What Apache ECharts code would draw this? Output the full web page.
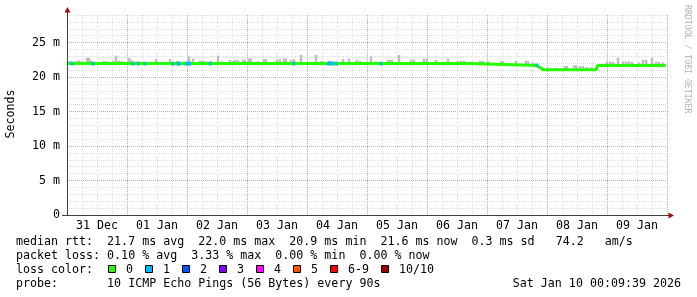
<!DOCTYPE html>
<html>
<head>
<meta charset="utf-8">
<script src="https://cdn.jsdelivr.net/npm/echarts@6/dist/echarts.min.js"></script>
<style>
html,body{margin:0;padding:0;background:#fff;}
#chart{width:697px;height:297px;}
</style>
</head>
<body>
<div id="chart"></div>
<script>
// ---------- data ----------
const dayLabels = ['31 Dec','01 Jan','02 Jan','03 Jan','04 Jan','05 Jan','06 Jan','07 Jan','08 Jan','09 Jan'];
const yTickLabels = {0:'0',5:'5 m',10:'10 m',15:'15 m',20:'20 m',25:'25 m'};

// median rtt (ms) vs hours since 31 Dec 00:00
const medianHours = [0, 161.5, 161.7, 188, 190.4, 211.6, 212.2, 239.5];
const medianMs    = [21.95, 21.95, 21.68, 21.68, 21.05, 21.05, 21.68, 21.68];

// smoke (max rtt) tops, ms
const smokeHours = [1.2,3.6,4.8,6.0,8.0,8.8,9.6,12,14.4,15.2,16.4,18.4,19.6,20.8,22.0,24.8,25.6,26.8,28.0,30.4,33.2,35.6,38.4,41.2,44.0,46.4,48.8,50.4,53.2,54.4,55.6,57.6,60.4,62.0,65.2,66.4,67.2,68.4,70.4,71.2,72.8,73.6,76.4,78.8,79.6,84.0,85.2,86.8,87.6,89.6,90.8,93.6,97.2,99.6,101.6,102.4,104.8,105.6,110.4,112.8,116,117.2,121.6,123.6,128.4,129.2,130,132.8,137.6,138.8,142.8,144,147.6,152.4,156.4,157.6,158.8,
  165.2,166.4,168.4,170.8,173.6,174.4,177.2,179.6,183.6,184.4,186.4,
  192.4,195.2,199.2,200,202.8,203.6,205.2,206.4,208,209.6,
  216,217.2,218.4,220.4,222.4,223.6,224.8,226,228.8,230.4,231.6,234,235.6,236.8,238.4];
const smokeTopMs = [22.3,22.35,22.4,22.3,22.8,22.8,22.4,22.2,22.3,22.3,22.25,22.4,23.1,22.4,22.3,22.8,22.5,22.3,22.25,22.2,22.2,22.6,22.2,22.6,22.3,22.2,23.0,22.7,22.4,22.4,22.3,22.3,23.1,22.3,22.5,22.35,22.5,22.5,22.5,22.5,22.7,22.7,22.3,22.6,22.6,22.5,22.6,22.7,22.7,22.5,22.6,23.2,22.2,23.2,22.3,22.3,22.35,22.35,22.6,22.7,22.5,22.35,23.0,22.3,22.5,22.5,22.5,23.2,22.5,22.5,22.7,22.7,22.5,22.7,22.35,22.35,22.35,
  22.35,22.35,22.3,22.0,22.3,22.3,22.0,22.35,22.4,22.3,22.1,
  21.3,21.35,21.6,21.6,21.7,21.7,21.6,21.6,21.45,21.4,
  22.2,22.25,22.2,22.8,22.25,22.25,22.25,22.2,22.1,22.5,22.5,22.8,22.25,22.2,22.1];

// samples with 1/10 packets lost
const loss1Hours = [2.0,10.4,26.3,28.5,31.1,42.3,44.4,44.8,47.6,48.4,49.2,57.2,90.8,104.4,105.2,106.4,107.6,125.6,188];
const loss1Ms    = [21.95,21.95,21.95,21.95,21.95,21.95,21.95,21.95,21.95,21.95,21.95,21.95,21.95,21.95,21.95,21.95,21.95,21.95,21.68];

const lossLabels = ['0','1','2','3','4','5','6-9','10/10'];
const lossColors = ['#26ff00','#00b8ff','#0059ff','#7e00ff','#ff00ff','#ff5500','#ff0000','#a10000'];

const statLines = [
  'median rtt:  21.7 ms avg  22.0 ms max  20.9 ms min  21.6 ms now  0.3 ms sd   74.2   am/s',
  'packet loss: 0.10 % avg  3.33 % max  0.00 % min  0.00 % now',
  'loss color:',
  'probe:       10 ICMP Echo Pings (56 Bytes) every 90s'
];
const stampText = 'Sat Jan 10 00:09:39 2026';

// ---------- chart ----------
const MONO = '"DejaVu Sans Mono", monospace';
const FS = 11.65;
const CW = 7.01;
const MINOR = '#dcdcdc';
const MAJOR = '#e89a9a';

function medianAt(h){
  for (let i = 1; i < medianHours.length; i++) {
    if (h <= medianHours[i]) {
      const a = medianHours[i-1], b = medianHours[i];
      const t = b === a ? 0 : (h - a) / (b - a);
      return medianMs[i-1] + t * (medianMs[i] - medianMs[i-1]);
    }
  }
  return medianMs[medianMs.length-1];
}

const smokeData = smokeHours.map((h, i) => [h, medianAt(h), smokeTopMs[i]]);
const medianData = medianHours.map((h, i) => [h, medianMs[i]]);
const loss1Data = loss1Hours.map((h, i) => [h, loss1Ms[i]]);

const chart = echarts.init(document.getElementById('chart'), null, {renderer:'canvas'});

const G = {left:67, top:15, width:600, height:200};

const graphics = [];
graphics.push({type:'line', z:50, shape:{x1:67.5,y1:215,x2:67.5,y2:11}, style:{stroke:'#404040',lineWidth:1}});
graphics.push({type:'line', z:50, shape:{x1:62,y1:215.5,x2:670,y2:215.5}, style:{stroke:'#404040',lineWidth:1}});
graphics.push({type:'polygon', z:51, shape:{points:[[67.5,7],[64.5,12.5],[70.5,12.5]]}, style:{fill:'#a01010'}});
graphics.push({type:'polygon', z:51, shape:{points:[[674,215.5],[668.5,212.5],[668.5,218.5]]}, style:{fill:'#a01010'}});
graphics.push({type:'text', x:11, y:114, rotation:Math.PI/2, style:{text:'Seconds', font:FS+'px '+MONO, fill:'#000', align:'center', verticalAlign:'middle'}});
graphics.push({type:'text', x:687, y:5, rotation:-Math.PI/2, style:{text:'RRDTOOL / TOBI OETIKER', font:'8.2px '+MONO, fill:'#b4b4b4', align:'left', verticalAlign:'middle'}});
const rowY = [241.5, 255.5, 269.5, 283.5];
statLines.forEach((t, i) => {
  graphics.push({type:'text', x:16, y:rowY[i], style:{text:t, font:FS+'px '+MONO, fill:'#000', align:'left', verticalAlign:'middle'}});
});
graphics.push({type:'text', x:681, y:rowY[3], style:{text:stampText, font:FS+'px '+MONO, fill:'#000', align:'right', verticalAlign:'middle'}});
let lx = 108;
lossLabels.forEach((lab, i) => {
  graphics.push({type:'rect', shape:{x:lx+0.5, y:265.5, width:7, height:7}, style:{fill:lossColors[i], stroke:'#000', lineWidth:1}});
  graphics.push({type:'text', x:lx+18, y:rowY[2], style:{text:lab, font:FS+'px '+MONO, fill:'#000', align:'left', verticalAlign:'middle'}});
  lx += 18 + lab.length*CW + 12;
});

const option = {
  animation:false,
  backgroundColor:'#ffffff',
  grid:G,
  xAxis:{type:'value', min:0, max:240, interval:6,
     axisLine:{show:false}, axisTick:{show:false},
     axisLabel:{margin:5, fontFamily:MONO, fontSize:FS, color:'#000', showMinLabel:true, showMaxLabel:true,
       formatter:v => (Math.round(v) % 24 === 12 ? dayLabels[Math.floor(v/24)] : '')},
     splitLine:{show:true, lineStyle:{color:[MAJOR, MINOR, MINOR, MINOR], width:1, type:[1,1]}}},
  yAxis:{type:'value', min:0, max:29, interval:1,
     axisLine:{show:false}, axisTick:{show:false},
     axisLabel:{margin:7, fontFamily:MONO, fontSize:FS, color:'#000',
       formatter:v => (yTickLabels[v] !== undefined ? yTickLabels[v] : '')},
     splitLine:{show:true, lineStyle:{color:[MAJOR, MINOR, MINOR, MINOR, MINOR], width:1, type:[1,1]}}},
  series:[
    {type:'custom', name:'smoke', z:2,
     data:smokeData,
     renderItem:(params, api) => {
       const p0 = api.coord([api.value(0), api.value(1)]);
       const p1 = api.coord([api.value(0), api.value(2)]);
       const w = api.size([1, 0])[0];
       return {type:'rect', shape:{x:p0[0]-w/2, y:p1[1], width:w, height:p0[1]-p1[1]}, style:{fill:'#bdbdbd'}};
     }},
    {type:'line', name:'median', z:3,
     data:medianData, showSymbol:false, symbol:'none',
     lineStyle:{color:'#26ff00', width:3}},
    {type:'scatter', name:'loss1', z:4,
     data:loss1Data, symbol:'rect', symbolSize:[3,4],
     itemStyle:{color:'#00b8ff'}}
  ],
  graphic:graphics
};
chart.setOption(option);
</script>
</body>
</html>
